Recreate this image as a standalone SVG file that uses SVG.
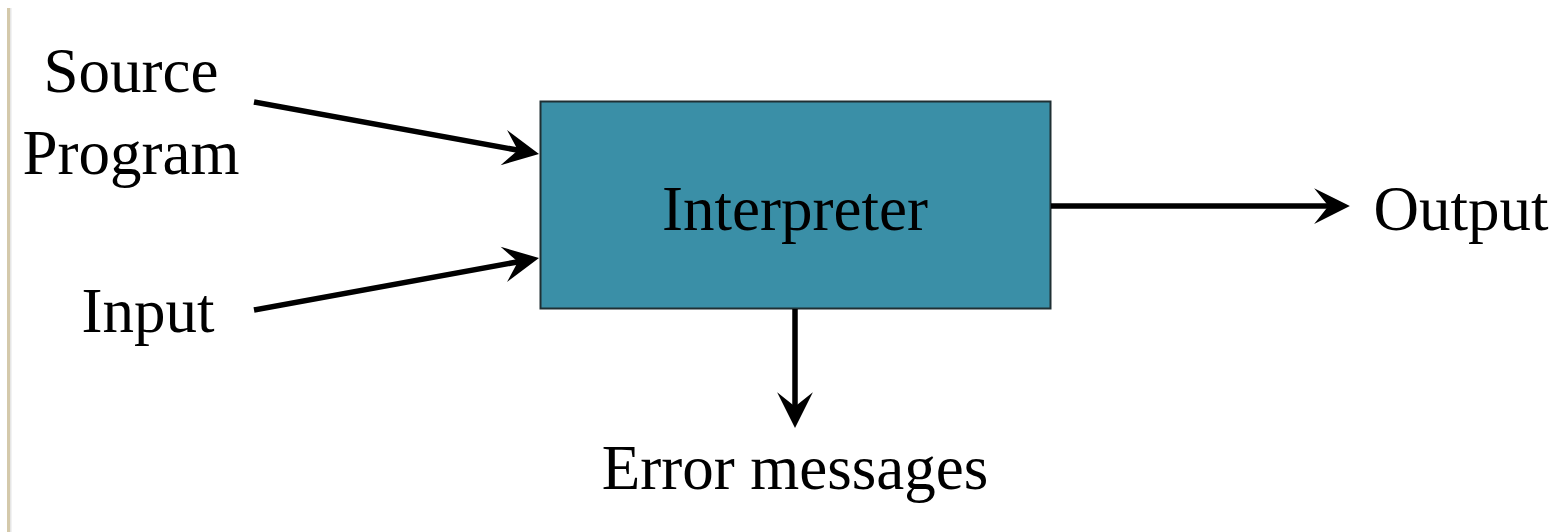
<svg xmlns="http://www.w3.org/2000/svg" width="1560" height="532" viewBox="0 0 1560 532">
<style>
.lbl{font-family:"Liberation Serif","Times New Roman",serif;font-size:63px;fill:#000}
.edge{stroke:#000;stroke-width:5.5;fill:none}
</style>
<defs>
<marker id="ah" viewBox="0 0 20 20" refX="10" refY="10" markerWidth="6.5" markerHeight="6.5" orient="auto" markerUnits="strokeWidth" overflow="visible">
<path d="M0,0 L20,10 L0,20 L8,10 Z" fill="#000"/>
</marker>
</defs>
<rect width="1560" height="532" fill="#fff"/>
<rect x="7" y="8" width="3" height="524" fill="#d4c9ab"/>
<rect x="10" y="8" width="1.5" height="524" fill="#e6e6e6"/>
<g id="interpreter">
<rect x="540.5" y="101.5" width="510" height="207" fill="#3a8fa7" stroke="#1f2f33" stroke-width="2"/>
<text class="lbl" x="795" y="230" text-anchor="middle">Interpreter</text>
</g>
<g id="source">
<text class="lbl" x="131" y="92" text-anchor="middle">Source</text>
<text class="lbl" x="131" y="174" text-anchor="middle">Program</text>
</g>
<g id="input">
<text class="lbl" x="148" y="332" text-anchor="middle">Input</text>
</g>
<g id="output">
<text class="lbl" x="1461" y="230" text-anchor="middle">Output</text>
</g>
<g id="errors">
<text class="lbl" x="795" y="489" text-anchor="middle">Error messages</text>
</g>
<g id="connectors">
<line class="edge" x1="254" y1="102" x2="521.4" y2="150.8" marker-end="url(#ah)"/>
<line class="edge" x1="254" y1="310" x2="521.4" y2="261.2" marker-end="url(#ah)"/>
<line class="edge" x1="1051" y1="206" x2="1332" y2="206" marker-end="url(#ah)"/>
<line class="edge" x1="795" y1="309" x2="795" y2="410" marker-end="url(#ah)"/>
</g>
</svg>
